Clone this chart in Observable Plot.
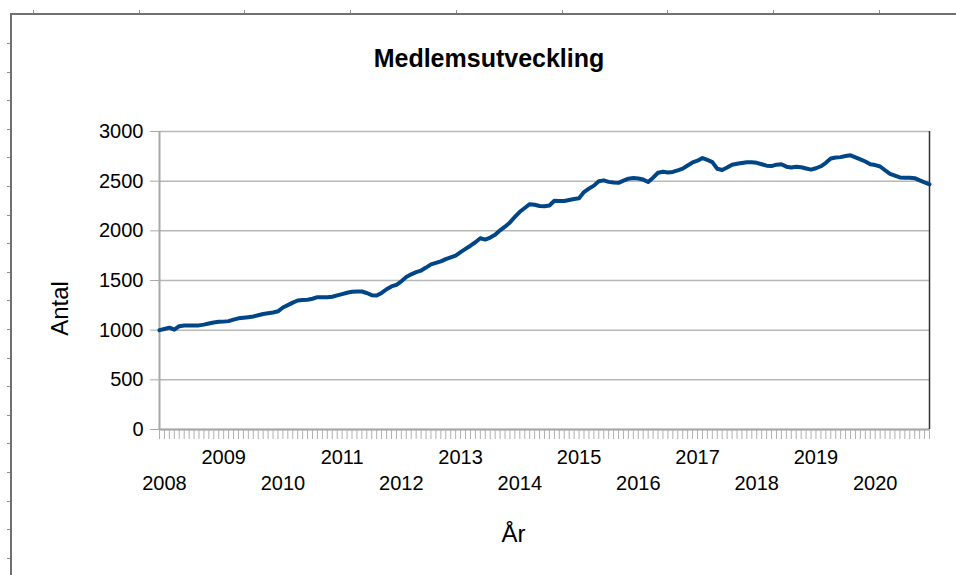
<!DOCTYPE html>
<html>
<head>
<meta charset="utf-8">
<script src="https://cdn.jsdelivr.net/npm/d3@7"></script>
<script src="https://cdn.jsdelivr.net/npm/@observablehq/plot@0.6"></script>
<style>
  html, body { margin: 0; padding: 0; background: #fff; }
  #page { position: relative; width: 956px; height: 575px; overflow: hidden; font-family: "Liberation Sans", Arial, sans-serif; color: #000; }
  #title { position: absolute; top: 46px; left: 22px; width: 934px; text-align: center; font-size: 25px; line-height: 25px; font-weight: bold; }
  #chart { position: absolute; top: 90px; left: 0; }
  .frameH { position: absolute; left: 10px; top: 13px; right: 0; height: 2px; background: #707070; }
  .frameV { position: absolute; left: 10px; top: 13px; bottom: 0; width: 2px; background: #707070; }
  .stubT { position: absolute; top: 10px; width: 1px; height: 3px; background: #909090; }
  .stubL { position: absolute; left: 7px; width: 3px; height: 1px; background: #909090; }
</style>
</head>
<body>
<div id="page">
  <div class="frameH"></div>
  <div class="frameV"></div>
  <div id="title">Medlemsutveckling</div>
  <div id="chart"></div>
</div>
<script>
// Monthly member counts, December 2007 – December 2020
const startYear = 2007;
const startMonth = 12;
const values = [
  1000, 1012, 1025, 1005, 1040, 1047, 1047, 1047, 1048, 1056, 1067, 1077,
  1084, 1086, 1091, 1106, 1119, 1125, 1131, 1138, 1150, 1163, 1171, 1178,
  1190, 1228, 1252, 1277, 1299, 1304, 1307, 1316, 1332, 1332, 1332, 1337,
  1350, 1363, 1377, 1387, 1390, 1389, 1374, 1352, 1348, 1375, 1412, 1440,
  1456, 1492, 1535, 1562, 1584, 1600, 1630, 1662, 1677, 1692, 1715, 1733,
  1751, 1785, 1818, 1850, 1885, 1925, 1912, 1932, 1960, 2005, 2042, 2085,
  2140, 2192, 2230, 2268, 2262, 2250, 2248, 2255, 2303, 2301, 2300, 2310,
  2321, 2328, 2390, 2425, 2455, 2500, 2508, 2493, 2487, 2483, 2505, 2525,
  2532, 2527, 2516, 2492, 2535, 2585, 2595, 2587, 2593, 2609, 2626, 2658,
  2688, 2706, 2733, 2714, 2692, 2625, 2612, 2637, 2666, 2675, 2683, 2690,
  2690, 2685, 2670, 2656, 2652, 2666, 2670, 2646, 2638, 2646, 2640, 2628,
  2616, 2630, 2650, 2685, 2728, 2738, 2742, 2753, 2760, 2740, 2720, 2698,
  2670, 2662, 2648, 2610, 2573, 2555, 2537, 2534, 2534, 2530, 2508, 2487,
  2468
];
const yTicks = [0, 500, 1000, 1500, 2000, 2500, 3000];
const chartTitle = "Medlemsutveckling";
const xTitle = "År";
const yTitle = "Antal";

// decorative spreadsheet frame stubs
const page = document.getElementById("page");
for (let k = 0; k < 9; k++) {
  const s = document.createElement("div"); s.className = "stubT";
  s.style.left = (33 + k * 105.7).toFixed(1) + "px"; page.appendChild(s);
}
for (let k = 0; k < 19; k++) {
  const s = document.createElement("div"); s.className = "stubL";
  s.style.top = (43 + k * 28.6).toFixed(1) + "px"; page.appendChild(s);
}
document.getElementById("title").textContent = chartTitle;

const data = values.map((v, i) => {
  const m0 = startMonth - 1 + i;
  return {i, v, year: startYear + Math.floor(m0 / 12), month: (m0 % 12) + 1};
});
const yearStarts = data.filter(d => d.month === 1);
const oddYears = yearStarts.filter(d => d.year % 2 === 1);
const evenYears = yearStarts.filter(d => d.year % 2 === 0);
const last = values.length - 1;

const chart = Plot.plot({
  width: 956,
  height: 485,
  marginLeft: 159,
  marginRight: 27,
  marginTop: 41,
  marginBottom: 146,
  style: {fontFamily: "'Liberation Sans', Arial, sans-serif", fontSize: "20px", color: "#000", background: "transparent", overflow: "visible"},
  x: {domain: [0, last], axis: null},
  y: {domain: [0, 3000], axis: null},
  marks: [
    Plot.gridY(yTicks, {stroke: "#b8b8b8", strokeOpacity: 1, strokeWidth: 1.5}),
    Plot.axisY(yTicks, {tickSize: 9, tickPadding: 7, stroke: "#a8a8a8", fill: "#000", fontSize: 20, label: null, tickFormat: d => String(d)}),
    Plot.axisX(data.map(d => d.i), {tickSize: 10, tickFormat: () => "", stroke: "#b0b0b0", label: null}),
    Plot.ruleY([0], {stroke: "#a8a8a8", strokeWidth: 2}),
    Plot.ruleX([0], {stroke: "#a8a8a8", strokeWidth: 2}),
    Plot.ruleX([last], {stroke: "#333", strokeWidth: 1.5}),
    Plot.lineY(data, {x: "i", y: "v", stroke: "#004586", strokeWidth: 4, strokeLinejoin: "round"}),
    Plot.text(oddYears, {x: "i", text: d => String(d.year), frameAnchor: "bottom", dy: 34, fontSize: 20, fill: "#000"}),
    Plot.text(evenYears, {x: "i", text: d => String(d.year), frameAnchor: "bottom", dy: 60, fontSize: 20, fill: "#000"}),
    Plot.text([xTitle], {frameAnchor: "bottom", dx: -31, dy: 112, fontSize: 24, fill: "#000"}),
    Plot.text([yTitle], {frameAnchor: "left", textAnchor: "middle", rotate: -90, dx: -99, dy: 28, fontSize: 24, fill: "#000"})
  ]
});
document.getElementById("chart").appendChild(chart);
</script>
</body>
</html>
